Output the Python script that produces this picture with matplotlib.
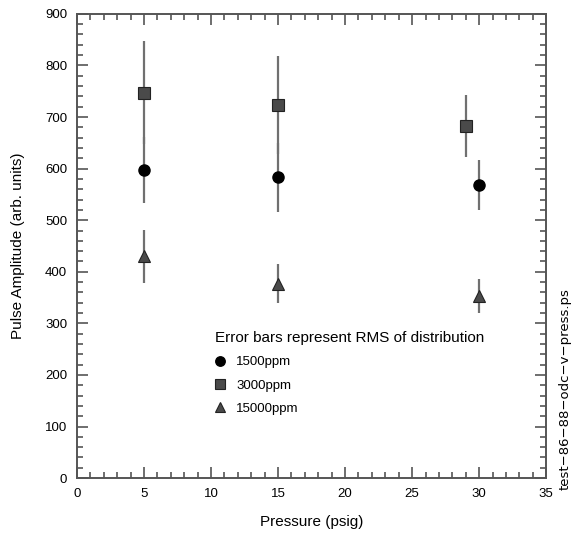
import numpy as np
import matplotlib
matplotlib.use('Agg')
import matplotlib.pyplot as plt
from matplotlib.lines import Line2D
from matplotlib.ticker import MultipleLocator

plt.rcParams['font.family'] = ['Liberation Sans', 'DejaVu Sans']

# data
press_1500 = [5, 15, 30]
amp_1500 = [597, 583, 568]
rms_1500 = [64, 67, 48]

press_3000 = [5, 15, 29]
amp_3000 = [747, 723, 683]
rms_3000 = [100, 95, 60]

press_15000 = [5, 15, 30]
amp_15000 = [430, 377, 353]
rms_15000 = [51, 38, 33]

series_labels = ['1500ppm', '3000ppm', '15000ppm']

fig = plt.figure(figsize=(5.78, 5.33), dpi=100)
ax = fig.add_axes([0.133, 0.103, 0.812, 0.871])

bar_kw = dict(ls='none', ecolor='#707070', elinewidth=1.6, capsize=0)
sq_style = dict(marker='s', ms=8, mfc='#4a4a4a', mec='#222222', mew=0.8)
ci_style = dict(marker='o', ms=8, mfc='black', mec='black')
tr_style = dict(marker='^', ms=8, mfc='#4a4a4a', mec='#222222', mew=0.8)

ax.errorbar(press_3000, amp_3000, yerr=rms_3000, **sq_style, **bar_kw)
ax.errorbar(press_1500, amp_1500, yerr=rms_1500, **ci_style, **bar_kw)
ax.errorbar(press_15000, amp_15000, yerr=rms_15000, **tr_style, **bar_kw)

ax.set_xlim(0, 35)
ax.set_ylim(0, 900)
ax.xaxis.set_major_locator(MultipleLocator(5))
ax.xaxis.set_minor_locator(MultipleLocator(1))
ax.yaxis.set_major_locator(MultipleLocator(100))
ax.yaxis.set_minor_locator(MultipleLocator(20))
ax.tick_params(which='both', direction='in', top=True, right=True,
               color='#555555', labelsize=9.5, pad=7)
ax.tick_params(which='major', length=8, width=1.2)
ax.tick_params(which='minor', length=4, width=1.2)
for s in ax.spines.values():
    s.set_color('#555555')
    s.set_linewidth(1.4)

ax.set_xlabel('Pressure (psig)', fontsize=11, labelpad=11)
ax.set_ylabel('Pulse Amplitude (arb. units)', fontsize=11, labelpad=14)

# legend: markers only, no error bar lines
handles = [Line2D([], [], ls='none', **ci_style),
           Line2D([], [], ls='none', **sq_style),
           Line2D([], [], ls='none', **tr_style)]
ax.legend(handles, series_labels,
          title='Error bars represent RMS of distribution',
          loc='upper left', bbox_to_anchor=(0.268, 0.343), frameon=False,
          alignment='left', fontsize=9.5, title_fontsize=11,
          handlelength=0.9, handletextpad=0.75, labelspacing=0.85,
          markerscale=0.85)

fig.text(0.978, 0.08, 'test\u221286\u221288\u2212odc\u2212v\u2212press.ps', rotation=90,
         fontsize=9.5, family='DejaVu Sans', ha='center', va='bottom')

fig.savefig('out.png', dpi=100)
